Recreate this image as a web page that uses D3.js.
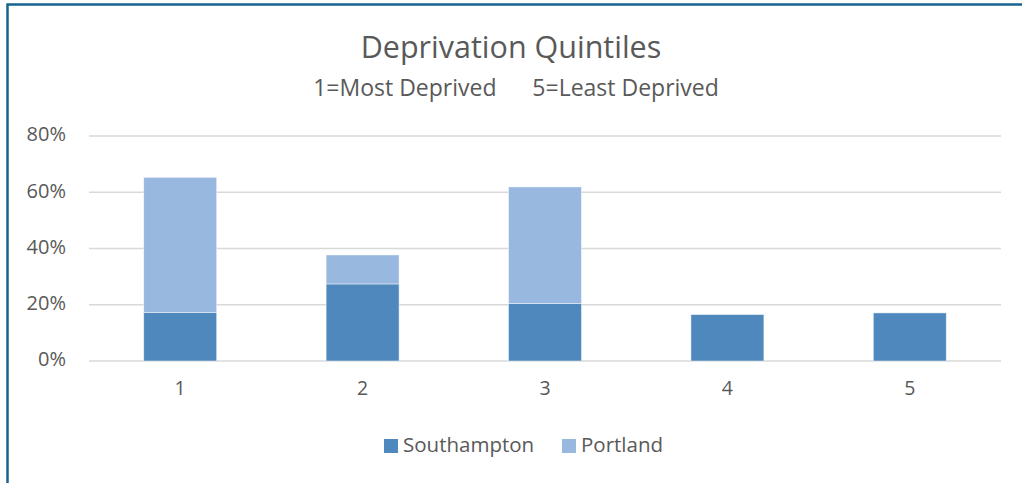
<!DOCTYPE html>
<html>
<head>
<meta charset="utf-8">
<script src="https://cdn.jsdelivr.net/npm/d3@7"></script>
<style>
  body { margin: 0; background: #fff; }
  svg { display: block; font-family: "Open Sans", Lato, sans-serif; }
</style>
</head>
<body>
<svg id="chart"></svg>
<script>
// data
let quintiles = ["1", "2", "3", "4", "5"];
let southampton = [0.172, 0.274, 0.204, 0.165, 0.171];
let portland = [0.481, 0.103, 0.415, 0, 0];
let seriesNames = ["Southampton", "Portland"];
let seriesColors = ["#4f88bd", "#98b8df"];
let yTicks = [0, 0.2, 0.4, 0.6, 0.8];

let width = 1022, height = 483;
let marginLeft = 89, marginRight = 21, marginTop = 136, plotBottom = 361;
let font = "'Open Sans', Lato, sans-serif";

let svg = d3.select("#chart")
    .attr("width", width)
    .attr("height", height);

// frame (left and top edge only visible)
svg.append("path")
    .attr("d", `M7.5,${height} V4.5 H${width}`)
    .attr("fill", "none")
    .attr("stroke", "#17638f")
    .attr("stroke-width", 2.5);

// titles
svg.append("text")
    .attr("x", 511).attr("y", 58)
    .attr("text-anchor", "middle")
    .attr("font-size", 30.5)
    .attr("fill", "#595959")
    .text("Deprivation Quintiles");

svg.append("text")
    .attr("x", 516).attr("y", 96)
    .attr("text-anchor", "middle")
    .attr("font-size", 23)
    .attr("fill", "#595959")
    .attr("xml:space", "preserve")
    .style("white-space", "pre")
    .text("1=Most Deprived      5=Least Deprived");

let scaleX = d3.scaleBand()
    .domain(quintiles)
    .range([marginLeft, width - marginRight])
    .paddingInner(0.6)
    .paddingOuter(0.3);

let scaleY = d3.scaleLinear()
    .domain([0, 0.8])
    .range([plotBottom, marginTop]);

// grid lines
svg.append("g")
    .selectAll("line")
    .data(yTicks)
    .enter().append("line")
    .attr("x1", marginLeft)
    .attr("x2", width - marginRight)
    .attr("y1", d => scaleY(d))
    .attr("y2", d => scaleY(d))
    .attr("stroke", "#d9d9d9")
    .attr("stroke-width", 1.5);

// y axis labels
let axisY = d3.axisLeft(scaleY)
    .tickValues(yTicks)
    .tickFormat(d3.format(".0%"))
    .tickSize(0)
    .tickPadding(23);
let gY = svg.append("g")
    .attr("transform", `translate(${marginLeft}, 0)`)
    .call(axisY);
gY.select(".domain").remove();
gY.selectAll("text")
    .attr("font-family", font)
    .attr("font-size", 20)
    .attr("dy", "0.24em")
    .attr("fill", "#595959");

// x axis labels
let axisX = d3.axisBottom(scaleX).tickSize(0).tickPadding(20);
let gX = svg.append("g")
    .attr("transform", `translate(0, ${plotBottom})`)
    .call(axisX);
gX.select(".domain").remove();
gX.selectAll("text")
    .attr("font-family", font)
    .attr("font-size", 19.5)
    .attr("fill", "#595959");

// stacked bars
let rows = quintiles.map((q, i) => ({ q: q, Southampton: southampton[i], Portland: portland[i] }));
let stacked = d3.stack().keys(seriesNames)(rows);

svg.append("g")
    .selectAll("g")
    .data(stacked)
    .enter().append("g")
    .attr("fill", (d, i) => seriesColors[i])
    .selectAll("rect")
    .data(d => d.filter(p => p[1] - p[0] > 0))
    .enter().append("rect")
    .attr("x", d => scaleX(d.data.q))
    .attr("width", scaleX.bandwidth())
    .attr("y", d => scaleY(d[1]))
    .attr("height", d => scaleY(d[0]) - scaleY(d[1]))
    .attr("stroke", "#ffffff")
    .attr("stroke-opacity", 0.6)
    .attr("stroke-width", 0.75);

// legend
let legendX = [384, 562];
let legend = svg.append("g")
    .selectAll("g")
    .data(seriesNames)
    .enter().append("g")
    .attr("transform", (d, i) => `translate(${legendX[i]}, 439)`);
legend.append("rect")
    .attr("width", 14).attr("height", 14)
    .attr("fill", (d, i) => seriesColors[i]);
legend.append("text")
    .attr("x", 19).attr("y", 13)
    .attr("font-size", 20.5)
    .attr("fill", "#595959")
    .text(d => d);
</script>
</body>
</html>
